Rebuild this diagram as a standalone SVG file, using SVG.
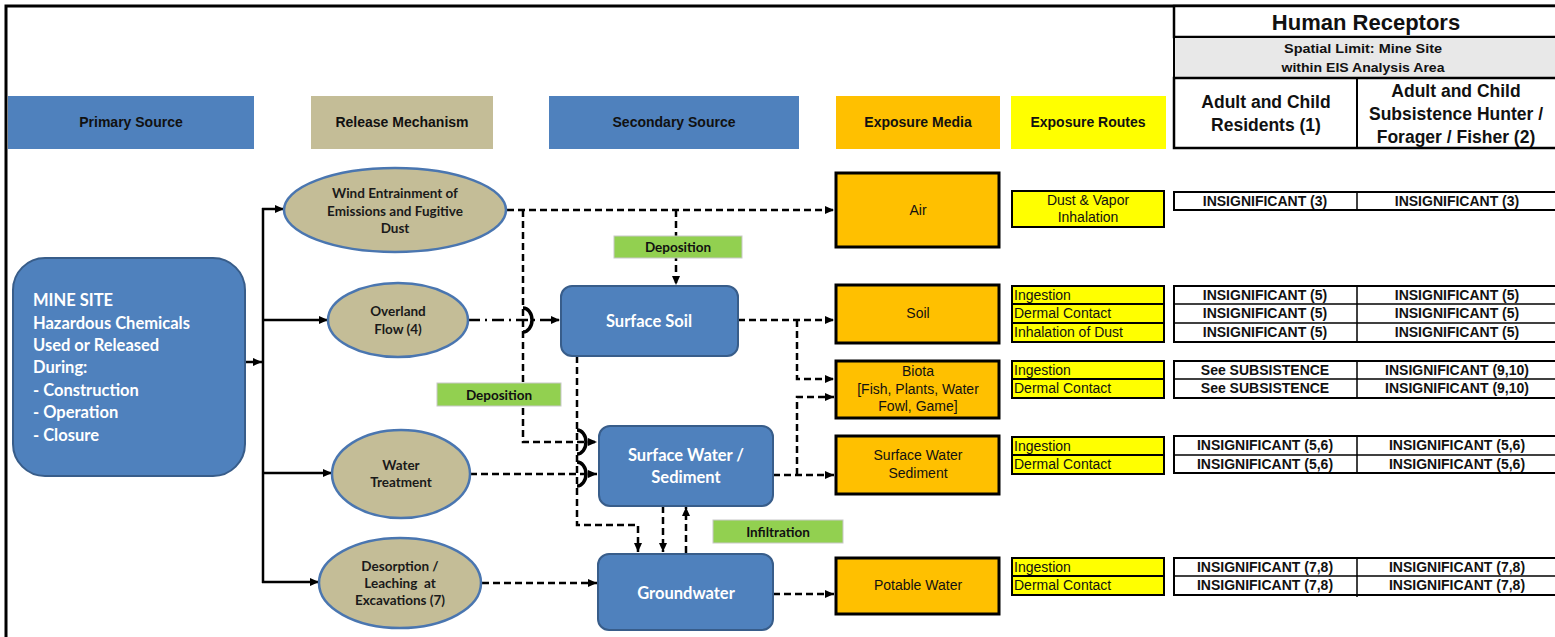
<svg xmlns="http://www.w3.org/2000/svg" width="1555" height="637" viewBox="0 0 1555 637">
<style>
.hdr{font-family:"Liberation Sans",Arial,sans-serif;font-weight:bold;font-size:14px;fill:#111;text-anchor:middle}
.cal{font-family:Lato,"Open Sans",sans-serif;font-weight:bold}
.wt{fill:#fff}
.ell{fill:#C4BD97;stroke:#4A76B0;stroke-width:2.5}
.ellt{font-family:Lato,"Open Sans",sans-serif;font-weight:bold;font-size:13.5px;fill:#1a1a1a;text-anchor:middle}
.box{fill:#4F81BD;stroke:#385D8A;stroke-width:2}
.boxt{font-family:Lato,"Open Sans",sans-serif;font-weight:bold;font-size:16.5px;fill:#fff;text-anchor:middle}
.med{fill:#FFC000;stroke:#000;stroke-width:3}
.medt{font-family:"Liberation Sans",Arial,sans-serif;font-size:14px;fill:#111;text-anchor:middle}
.rt{fill:#FFFF00;stroke:#000;stroke-width:2}
.rtt{font-family:"Liberation Sans",Arial,sans-serif;font-size:14px;fill:#111}
.tb{fill:#fff;stroke:#000;stroke-width:2}
.tbt{font-family:"Liberation Sans",Arial,sans-serif;font-weight:bold;font-size:14px;fill:#111;text-anchor:middle}
.lab{fill:#92D050;stroke:#C8C8C8;stroke-width:1}
.labt{font-family:Lato,"Open Sans",sans-serif;font-weight:bold;font-size:13.5px;fill:#111;text-anchor:middle}
.sol{fill:none;stroke:#000;stroke-width:2.5}
.dsh{fill:none;stroke:#000;stroke-width:2.5;stroke-dasharray:7 4}
.dd{fill:none;stroke:#000;stroke-width:2.5;stroke-dasharray:12 5 2 5}
.hop{fill:none;stroke:#000;stroke-width:3.5}
</style>
<defs>
<marker id="arr" markerUnits="userSpaceOnUse" markerWidth="9" markerHeight="8" refX="9" refY="4" orient="auto">
<path d="M0,0 L9,4 L0,8 z" fill="#000"/>
</marker>
</defs>

<rect x="0" y="0" width="1555" height="637" fill="#fff"/>
<path d="M6,637 V6 H1555" fill="none" stroke="#000" stroke-width="3"/>

<g id="headers">
<rect x="8" y="96" width="246" height="53" fill="#4F81BD"/>
<text class="hdr" x="131" y="127">Primary Source</text>
<rect x="311" y="96" width="182" height="53" fill="#C4BD97"/>
<text class="hdr" x="402" y="127">Release Mechanism</text>
<rect x="549" y="96" width="250" height="53" fill="#4F81BD"/>
<text class="hdr" x="674" y="127">Secondary Source</text>
<rect x="836" y="96" width="164" height="53" fill="#FFC000"/>
<text class="hdr" x="918" y="127">Exposure Media</text>
<rect x="1011" y="96" width="155" height="53" fill="#FFFF00"/>
<text class="hdr" x="1088" y="127">Exposure Routes</text>
</g>

<g id="receptors-header">
<rect x="1174" y="6" width="384" height="31" fill="#fff" stroke="#000" stroke-width="2.5"/>
<text x="1366" y="30" font-family="Liberation Sans, Arial, sans-serif" font-weight="bold" font-size="22" fill="#111" text-anchor="middle">Human Receptors</text>
<rect x="1174" y="37" width="384" height="41" fill="#E8E8E8" stroke="#000" stroke-width="2"/>
<text x="1363" y="52.5" font-family="Liberation Sans, Arial, sans-serif" font-weight="bold" font-size="12.5" fill="#111" text-anchor="middle" textLength="158" lengthAdjust="spacingAndGlyphs">Spatial Limit: Mine Site</text>
<text x="1363" y="71.5" font-family="Liberation Sans, Arial, sans-serif" font-weight="bold" font-size="12.5" fill="#111" text-anchor="middle" textLength="163" lengthAdjust="spacingAndGlyphs">within EIS Analysis Area</text>
<rect x="1174" y="78" width="384" height="70" fill="#fff" stroke="#000" stroke-width="2.5"/>
<line x1="1357" y1="78" x2="1357" y2="148" stroke="#000" stroke-width="2"/>
<g font-family="Liberation Sans, Arial, sans-serif" font-weight="bold" font-size="17.5" fill="#111" text-anchor="middle">
<text x="1266" y="108">Adult and Child</text>
<text x="1266" y="131">Residents (1)</text>
<text x="1456" y="97">Adult and Child</text>
<text x="1456" y="120">Subsistence Hunter /</text>
<text x="1456" y="143">Forager / Fisher (2)</text>
</g>
</g>

<g id="connectors">
<path class="sol" d="M245,362 H262" marker-end="url(#arr)"/>
<path class="sol" d="M263,208 V583"/>
<path class="sol" d="M262,209 H284" marker-end="url(#arr)"/>
<path class="sol" d="M262,320 H328" marker-end="url(#arr)"/>
<path class="sol" d="M262,473 H332" marker-end="url(#arr)"/>
<path class="sol" d="M262,582 H319" marker-end="url(#arr)"/>

<path class="dsh" d="M507,210 H834" marker-end="url(#arr)"/>
<path class="dsh" d="M523,210 V442 H597" marker-end="url(#arr)"/>
<path class="dsh" d="M676,210 V285" marker-end="url(#arr)"/>
<path class="dd" d="M468,320 H560" marker-end="url(#arr)"/>
<path class="dsh" d="M738,320 H834" marker-end="url(#arr)"/>
<path class="dsh" d="M797,320 V379 H834" marker-end="url(#arr)"/>
<path class="dsh" d="M577,356 V525 H638 V552" marker-end="url(#arr)"/>
<path class="dsh" d="M470,474 H597" marker-end="url(#arr)"/>
<path class="dsh" d="M773,475 H834" marker-end="url(#arr)"/>
<path class="dsh" d="M797,475 V397 H834" marker-end="url(#arr)"/>
<path class="dsh" d="M663,506 V552" marker-end="url(#arr)"/>
<path class="dsh" d="M686,553 V507" marker-end="url(#arr)"/>
<path class="dsh" d="M482,583 H597" marker-end="url(#arr)"/>
<path class="dsh" d="M773,594 H834" marker-end="url(#arr)"/>

<path class="hop" d="M523,308 A9,12 0 0 1 523,332"/>
<path class="hop" d="M577,430 A9,12 0 0 1 577,454"/>
<path class="hop" d="M577,462 A9,12 0 0 1 577,486"/>
</g>

<g id="label-deposition-1">
<rect class="lab" x="614" y="236" width="128" height="22"/>
<text class="labt" x="678" y="252">Deposition</text>
</g>
<g id="label-deposition-2">
<rect class="lab" x="437" y="383" width="124" height="23"/>
<text class="labt" x="499" y="399.5">Deposition</text>
</g>
<g id="label-infiltration">
<rect class="lab" x="713" y="520" width="130" height="23"/>
<text class="labt" x="778" y="536.5">Infiltration</text>
</g>

<g id="mine-site">
<rect class="box" x="13" y="258" width="232" height="218" rx="32" ry="32"/>
<g class="cal wt" font-size="16.5">
<text x="33" y="306">MINE SITE</text>
<text x="33" y="329">Hazardous Chemicals</text>
<text x="33" y="351">Used or Released</text>
<text x="33" y="373">During:</text>
<text x="33" y="396">- Construction</text>
<text x="33" y="418">- Operation</text>
<text x="33" y="441">- Closure</text>
</g>
</g>

<g id="wind">
<ellipse class="ell" cx="395" cy="210" rx="111" ry="42"/>
<text class="ellt" x="395" y="198">Wind Entrainment of</text>
<text class="ellt" x="395" y="216">Emissions and Fugitive</text>
<text class="ellt" x="395" y="233">Dust</text>
</g>
<g id="overland">
<ellipse class="ell" cx="398" cy="320" rx="70" ry="37"/>
<text class="ellt" x="398" y="316">Overland</text>
<text class="ellt" x="398" y="334">Flow (4)</text>
</g>
<g id="water-treatment">
<ellipse class="ell" cx="401" cy="474" rx="69" ry="44"/>
<text class="ellt" x="401" y="470">Water</text>
<text class="ellt" x="401" y="487">Treatment</text>
</g>
<g id="desorption">
<ellipse class="ell" cx="400" cy="583" rx="81" ry="45"/>
<text class="ellt" x="400" y="571">Desorption /</text>
<text class="ellt" x="400" y="588" xml:space="preserve">Leaching  at</text>
<text class="ellt" x="400" y="605">Excavations (7)</text>
</g>

<g id="surface-soil">
<rect class="box" x="561" y="286" width="177" height="70" rx="11" ry="11"/>
<text class="boxt" x="649" y="327">Surface Soil</text>
</g>
<g id="surface-water">
<rect class="box" x="599" y="426" width="174" height="80" rx="11" ry="11"/>
<text class="boxt" x="686" y="461">Surface Water /</text>
<text class="boxt" x="686" y="483">Sediment</text>
</g>
<g id="groundwater">
<rect class="box" x="598" y="554" width="175" height="76" rx="11" ry="11"/>
<text class="boxt" x="686" y="599">Groundwater</text>
</g>

<g id="media-air">
<rect class="med" x="836" y="173" width="163" height="74"/>
<text class="medt" x="918" y="215">Air</text>
</g>
<g id="media-soil">
<rect class="med" x="836" y="285" width="163" height="58"/>
<text class="medt" x="918" y="318">Soil</text>
</g>
<g id="media-biota">
<rect class="med" x="836" y="361" width="163" height="57"/>
<text class="medt" x="918" y="376">Biota</text>
<text class="medt" x="918" y="394">[Fish, Plants, Water</text>
<text class="medt" x="918" y="411">Fowl, Game]</text>
</g>
<g id="media-sw">
<rect class="med" x="836" y="436" width="163" height="58"/>
<text class="medt" x="918" y="460">Surface Water</text>
<text class="medt" x="918" y="478">Sediment</text>
</g>
<g id="media-potable">
<rect class="med" x="836" y="558" width="163" height="56"/>
<text class="medt" x="918" y="590">Potable Water</text>
</g>

<g id="routes-air">
<rect class="rt" x="1012" y="191" width="152" height="36"/>
<text class="medt" x="1088" y="205">Dust &amp; Vapor</text>
<text class="medt" x="1088" y="222">Inhalation</text>
</g>
<g id="routes-soil">
<rect class="rt" x="1012" y="286" width="152" height="18"/>
<rect class="rt" x="1012" y="304" width="152" height="19"/>
<rect class="rt" x="1012" y="323" width="152" height="19"/>
<text class="rtt" x="1014" y="300">Ingestion</text>
<text class="rtt" x="1014" y="318">Dermal Contact</text>
<text class="rtt" x="1014" y="337">Inhalation of Dust</text>
</g>
<g id="routes-biota">
<rect class="rt" x="1012" y="361" width="152" height="18"/>
<rect class="rt" x="1012" y="379" width="152" height="19"/>
<text class="rtt" x="1014" y="375">Ingestion</text>
<text class="rtt" x="1014" y="393">Dermal Contact</text>
</g>
<g id="routes-sw">
<rect class="rt" x="1012" y="437" width="152" height="18"/>
<rect class="rt" x="1012" y="455" width="152" height="19"/>
<text class="rtt" x="1014" y="451">Ingestion</text>
<text class="rtt" x="1014" y="469">Dermal Contact</text>
</g>
<g id="routes-potable">
<rect class="rt" x="1012" y="558" width="152" height="18"/>
<rect class="rt" x="1012" y="576" width="152" height="19"/>
<text class="rtt" x="1014" y="572">Ingestion</text>
<text class="rtt" x="1014" y="590">Dermal Contact</text>
</g>

<g id="table-air">
<rect class="tb" x="1174" y="192" width="384" height="18"/>
<line x1="1357" y1="192" x2="1357" y2="210" stroke="#000" stroke-width="1.5"/>
<text class="tbt" x="1265" y="206">INSIGNIFICANT (3)</text>
<text class="tbt" x="1457" y="206">INSIGNIFICANT (3)</text>
</g>
<g id="table-soil">
<rect class="tb" x="1174" y="286" width="384" height="56"/>
<line x1="1174" y1="304" x2="1558" y2="304" stroke="#000" stroke-width="1.5"/>
<line x1="1174" y1="323" x2="1558" y2="323" stroke="#000" stroke-width="1.5"/>
<line x1="1357" y1="286" x2="1357" y2="342" stroke="#000" stroke-width="1.5"/>
<text class="tbt" x="1265" y="300">INSIGNIFICANT (5)</text>
<text class="tbt" x="1457" y="300">INSIGNIFICANT (5)</text>
<text class="tbt" x="1265" y="318">INSIGNIFICANT (5)</text>
<text class="tbt" x="1457" y="318">INSIGNIFICANT (5)</text>
<text class="tbt" x="1265" y="337">INSIGNIFICANT (5)</text>
<text class="tbt" x="1457" y="337">INSIGNIFICANT (5)</text>
</g>
<g id="table-biota">
<rect class="tb" x="1174" y="361" width="384" height="37"/>
<line x1="1174" y1="379" x2="1558" y2="379" stroke="#000" stroke-width="1.5"/>
<line x1="1357" y1="361" x2="1357" y2="398" stroke="#000" stroke-width="1.5"/>
<text class="tbt" x="1265" y="375">See SUBSISTENCE</text>
<text class="tbt" x="1457" y="375">INSIGNIFICANT (9,10)</text>
<text class="tbt" x="1265" y="393">See SUBSISTENCE</text>
<text class="tbt" x="1457" y="393">INSIGNIFICANT (9,10)</text>
</g>
<g id="table-sw">
<rect class="tb" x="1174" y="436" width="384" height="37"/>
<line x1="1174" y1="455" x2="1558" y2="455" stroke="#000" stroke-width="1.5"/>
<line x1="1357" y1="436" x2="1357" y2="473" stroke="#000" stroke-width="1.5"/>
<text class="tbt" x="1265" y="450">INSIGNIFICANT (5,6)</text>
<text class="tbt" x="1457" y="450">INSIGNIFICANT (5,6)</text>
<text class="tbt" x="1265" y="469">INSIGNIFICANT (5,6)</text>
<text class="tbt" x="1457" y="469">INSIGNIFICANT (5,6)</text>
</g>
<g id="table-potable">
<rect class="tb" x="1174" y="558" width="384" height="37"/>
<line x1="1174" y1="576" x2="1558" y2="576" stroke="#000" stroke-width="1.5"/>
<line x1="1357" y1="558" x2="1357" y2="597" stroke="#000" stroke-width="1.5"/>
<text class="tbt" x="1265" y="572">INSIGNIFICANT (7,8)</text>
<text class="tbt" x="1457" y="572">INSIGNIFICANT (7,8)</text>
<text class="tbt" x="1265" y="590">INSIGNIFICANT (7,8)</text>
<text class="tbt" x="1457" y="590">INSIGNIFICANT (7,8)</text>
</g>
</svg>
